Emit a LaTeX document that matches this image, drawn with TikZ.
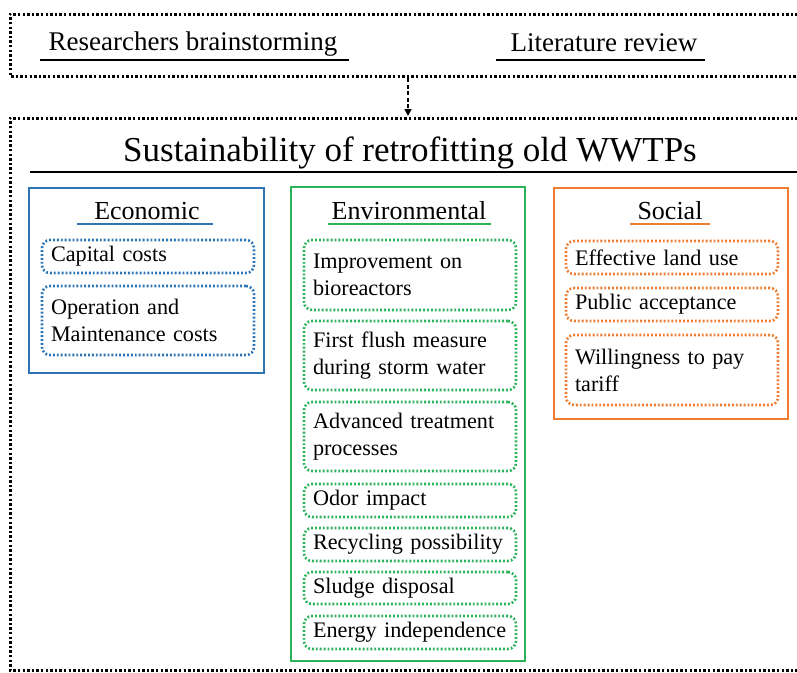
\documentclass[tikz,border=0pt]{standalone}
\usepackage{fontspec}
\setmainfont{Liberation Serif}
\usetikzlibrary{arrows.meta}
\hyphenpenalty=10000
\exhyphenpenalty=10000
\definecolor{ecoblue}{HTML}{2E75B6}
\definecolor{envgreen}{HTML}{2DB35A}
\definecolor{socorange}{HTML}{ED7D31}
\tikzset{
  outerdot/.style={draw=black, line width=3pt, dash pattern=on 2.4pt off 2.2pt},
  colbox/.style={draw=#1, line width=2pt},
  itembox/.style={draw=#1, line width=2.6pt, dash pattern=on 1.9pt off 2pt, rounded corners=8pt,
    text width=194pt, inner xsep=9pt, inner ysep=0pt, align=left, text=black,
    font=\fontsize{22.2}{27}\selectfont},
  headtext/.style={font=\fontsize{26}{30}\selectfont, inner sep=0pt},
  toptext/.style={font=\fontsize{27}{31}\selectfont, inner sep=0pt},
  uline/.style={line width=#1},
}
\begin{document}
\begin{tikzpicture}[x=1pt,y=-1pt]
\useasboundingbox (0,0) rectangle (797,672);
\clip (0,0) rectangle (797,672);
\fill[white] (0,0) rectangle (797,672);
% top box
\draw[outerdot] (830,14) -- (10,14) -- (10,76) -- (830,76);
\node[toptext] (rb) at (193,44) {Researchers brainstorming};
\draw[uline=2.6pt] (40,60) -- (349,60);
\node[toptext] (lr) at (604,43) {Literature review};
\draw[uline=2.6pt] (496,60) -- (705,60);
% arrow
\coordinate (arrs) at (408,78);
\coordinate (arre) at (408,116);
\draw[line width=1.6pt, dash pattern=on 4pt off 2.5pt, -{Triangle[length=7pt,width=7pt]}] (arrs) -- (arre);
% bottom box
\draw[outerdot] (830,118) -- (10,118) -- (10,670) -- (830,670);
\node[font=\fontsize{35}{40}\selectfont, inner sep=0pt] (title) at (410,153) {Sustainability of retrofitting old WWTPs};
\draw[uline=2.6pt] (30,172) -- (800,172);
% Economic
\draw[colbox=ecoblue] (29,188) rectangle (264,373);
\node[headtext] (eco) at (147,211) {Economic};
\draw[draw=ecoblue, uline=2.8pt] (77,224) -- (213,224);
\node[itembox=ecoblue, minimum height=33pt] (cap) at (148,256.5) {Capital costs};
\node[itembox=ecoblue, minimum height=69pt] (om) at (148,320.5) {Operation and\\Maintenance costs};
% Environmental
\draw[colbox=envgreen] (291,187) rectangle (525,661);
\node[headtext] (env) at (409,211) {Environmental};
\draw[draw=envgreen, uline=2.8pt] (328,224) -- (491,224);
\node[itembox=envgreen, minimum height=70pt] (imp) at (410,275) {Improvement on\\bioreactors};
\node[itembox=envgreen, minimum height=69pt] (ff) at (410,355.5) {First flush measure\\during storm water};
\node[itembox=envgreen, minimum height=69pt] (adv) at (410,436.5) {Advanced treatment\\processes};
\node[itembox=envgreen, minimum height=33pt] (odor) at (410,500.5) {Odor impact};
\node[itembox=envgreen, minimum height=33pt] (rec) at (410,544.5) {Recycling possibility};
\node[itembox=envgreen, minimum height=32pt] (sl) at (410,588) {Sludge disposal};
\node[itembox=envgreen, minimum height=33pt] (en) at (410,632.5) {Energy independence};
% Social
\draw[colbox=socorange] (554,188) rectangle (788,419);
\node[headtext] (soc) at (670,211) {Social};
\draw[draw=socorange, uline=2.8pt] (630,224) -- (710,224);
\node[itembox=socorange, minimum height=33pt] (eff) at (672,257.5) {Effective land use};
\node[itembox=socorange, minimum height=33pt] (pub) at (672,304.5) {Public acceptance};
\node[itembox=socorange, minimum height=70pt] (will) at (672,370) {Willingness to pay\\tariff};
\end{tikzpicture}
\end{document}
